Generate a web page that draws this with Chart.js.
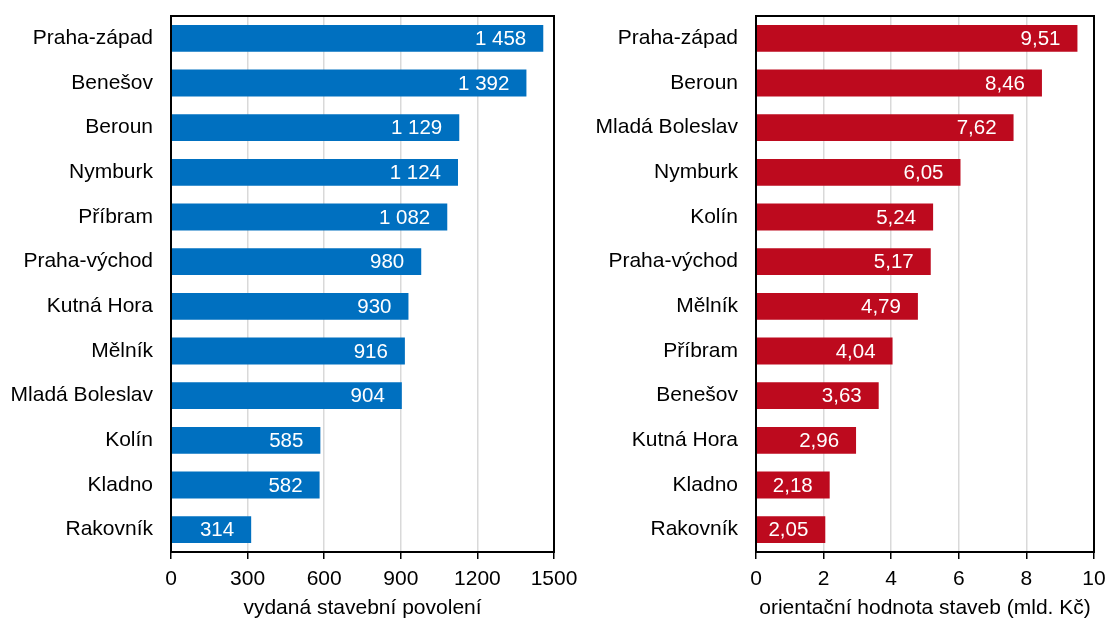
<!DOCTYPE html>
<html>
<head>
<meta charset="utf-8">
<script src="https://cdn.jsdelivr.net/npm/chart.js@4"></script>
<style>
    body { margin: 0; background: #fff; }
    .box { position: absolute; top: 0; height: 621px; }
    #left { left: 0; width: 578px; }
    #right { left: 585px; width: 522px; }
</style>
</head>
<body>
<div class="box" id="left"><canvas id="chart-povoleni"></canvas></div>
<div class="box" id="right"><canvas id="chart-hodnota"></canvas></div>
<script>
// okresy a hodnoty - vydaná stavební povolení
const okresyPovoleni = ['Praha-západ', 'Benešov', 'Beroun', 'Nymburk', 'Příbram', 'Praha-východ',
    'Kutná Hora', 'Mělník', 'Mladá Boleslav', 'Kolín', 'Kladno', 'Rakovník'];
const povoleni = [1458, 1392, 1129, 1124, 1082, 980, 930, 916, 904, 585, 582, 314];

// okresy a hodnoty - orientační hodnota staveb (mld. Kč)
const okresyHodnota = ['Praha-západ', 'Beroun', 'Mladá Boleslav', 'Nymburk', 'Kolín', 'Praha-východ',
    'Mělník', 'Příbram', 'Benešov', 'Kutná Hora', 'Kladno', 'Rakovník'];
const hodnota = [9.51, 8.46, 7.62, 6.05, 5.24, 5.17, 4.79, 4.04, 3.63, 2.96, 2.18, 2.05];

const FONT = "'Liberation Sans', Arial, sans-serif";

// popisky hodnot uvnitř konce sloupce
const barLabels = {
    id: 'barLabels',
    afterDatasetsDraw(chart, args, opts) {
        const ctx = chart.ctx;
        const meta = chart.getDatasetMeta(0);
        ctx.save();
        ctx.font = '20.5px ' + FONT;
        ctx.fillStyle = '#fff';
        ctx.textAlign = 'right';
        ctx.textBaseline = 'middle';
        meta.data.forEach((bar, i) => {
            const v = chart.data.datasets[0].data[i];
            ctx.fillText(opts.format(v), bar.x - opts.offset, bar.y + 1);
        });
        ctx.restore();
    }
};

// černý rámeček kolem plochy grafu
const frame = {
    id: 'frame',
    afterDraw(chart) {
        const { ctx, chartArea: a } = chart;
        ctx.save();
        ctx.strokeStyle = '#000';
        ctx.lineWidth = 2;
        ctx.strokeRect(a.left, a.top, a.right - a.left, a.bottom - a.top);
        ctx.restore();
    }
};

function makeChart(id, labels, data, color, max, step, title, format, padRight) {
    return new Chart(document.getElementById(id), {
        type: 'bar',
        data: {
            labels: labels,
            datasets: [{
                data: data,
                backgroundColor: color,
                barPercentage: 0.6,
                categoryPercentage: 1,
            }],
        },
        options: {
            indexAxis: 'y',
            responsive: true,
            maintainAspectRatio: false,
            animation: false,
            layout: { padding: { top: 16, right: padRight, bottom: 0, left: 0 } },
            plugins: {
                legend: { display: false },
                tooltip: { enabled: false },
                barLabels: { format: format, offset: 17 },
            },
            scales: {
                x: {
                    min: 0,
                    max: max,
                    ticks: {
                        stepSize: step,
                        color: '#000',
                        font: { family: FONT, size: 21 },
                        padding: 8,
                        maxRotation: 0,
                        callback: v => String(v),
                    },
                    grid: { color: '#d9d9d9', lineWidth: 1.5, tickColor: '#000', tickLength: 7 },
                    border: { display: false },
                    title: {
                        display: true,
                        text: title,
                        color: '#000',
                        font: { family: FONT, size: 21 },
                        padding: { top: 2, bottom: 0 },
                    },
                    afterFit(scale) {
                        scale.height = 69;
                        scale.paddingLeft = 0;
                        scale.paddingRight = 0;
                    },
                },
                y: {
                    ticks: {
                        color: '#000',
                        font: { family: FONT, size: 21 },
                        padding: 18,
                    },
                    grid: { display: false, drawTicks: false },
                    border: { display: false },
                    afterFit(scale) {
                        scale.width = 171;
                        scale.paddingTop = 0;
                        scale.paddingBottom = 0;
                    },
                },
            },
        },
        plugins: [barLabels, frame],
    });
}

makeChart('chart-povoleni', okresyPovoleni, povoleni, '#0070C0', 1500, 300,
    'vydaná stavební povolení', v => v.toLocaleString('cs-CZ').replace(/\s/g, ' '), 24);
makeChart('chart-hodnota', okresyHodnota, hodnota, '#BD0A1E', 10, 2,
    'orientační hodnota staveb (mld. Kč)', v => v.toFixed(2).replace('.', ','), 13);
</script>
</body>
</html>
